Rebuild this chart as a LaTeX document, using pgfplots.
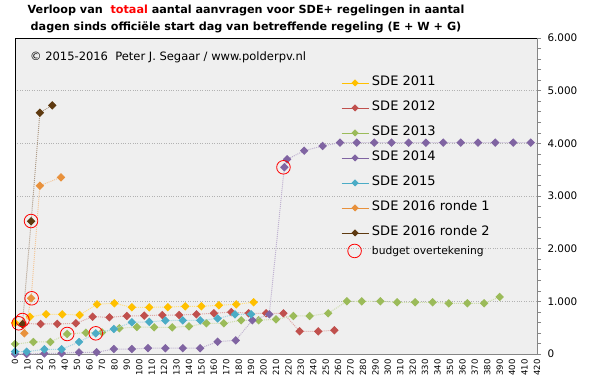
\documentclass[border=0pt]{standalone}
\usepackage{fontspec}
\setmainfont{DejaVu Sans}
\usepackage{pgfplots}
\pgfplotsset{compat=1.18}
\definecolor{cA}{HTML}{FFC000}
\definecolor{cB}{HTML}{C0504D}
\definecolor{cC}{HTML}{9BBB59}
\definecolor{cD}{HTML}{8064A2}
\definecolor{cE}{HTML}{4BACC6}
\definecolor{cF}{HTML}{E8913C}
\definecolor{cG}{HTML}{5E3A10}
\definecolor{bgc}{HTML}{EFEFEF}
\definecolor{axg}{HTML}{868686}
\pgfplotsset{
  ser/.style={color=#1!50!white, line width=1pt, dash pattern=on 1pt off 1pt,
    mark=square*, mark size=2.5pt, mark options={solid, rotate=45, fill=#1, draw=#1}},
  leg/.style={color=#1, solid, line width=0.8pt, mark=square*, mark size=2.1pt,
    mark options={solid, rotate=45, fill=#1, draw=#1}},
}
\begin{document}
\begin{tikzpicture}
\useasboundingbox (0,0) rectangle (591pt,381pt);
\begin{axis}[
  at={(15pt,27pt)}, anchor=south west,
  width=522pt, height=316pt, scale only axis,
  xmin=0, xmax=420, ymin=0, ymax=6000,
  axis background/.style={fill=bgc},
  axis x line*=bottom, axis y line*=right,
  axis line style={draw=axg, line width=0.8pt},
  clip mode=individual,
  xtick={0,10,...,420},
  xtick style={draw=none},
  xticklabel style={rotate=90, anchor=east, font=\fontsize{8.5}{9}\selectfont, inner sep=1pt, yshift=0pt},
  ytick={0,1000,...,6000},
  minor y tick num=4,
  tick align=outside,
  ytick style={draw=axg, line width=0.6pt},
  major tick length=4pt, minor tick length=4pt,
  yticklabel style={font=\fontsize{10.4}{12}\selectfont, text=black, xshift=3pt},
  /pgf/number format/assume math mode=true,
  /pgf/number format/1000 sep={.},
  ymajorgrids,
  major grid style={draw=gray!60, dotted, line width=0.6pt},
  legend cell align=left,
  legend style={at={(rel axis cs:0.6245,0.879)}, anchor=north west, draw=none, fill=none,
    font=\fontsize{13}{15}\selectfont, row sep=12pt, inner sep=0pt,
    nodes={inner sep=0pt, text height=9.5pt, text depth=3.5pt}, /tikz/column sep=3pt},
  legend image code/.code={\draw[mark repeat=2,mark phase=2,#1] plot coordinates {(0pt,0pt) (13.5pt,0pt) (27pt,0pt)};},
]
\addlegendimage{leg=cA}\addlegendentry{SDE 2011}
\addlegendimage{leg=cB}\addlegendentry{SDE 2012}
\addlegendimage{leg=cC}\addlegendentry{SDE 2013}
\addlegendimage{leg=cD}\addlegendentry{SDE 2014}
\addlegendimage{leg=cE}\addlegendentry{SDE 2015}
\addlegendimage{leg=cF}\addlegendentry{SDE 2016 ronde 1}
\addlegendimage{leg=cG}\addlegendentry{SDE 2016 ronde 2}
\addlegendimage{legend image code/.code={\draw[red, line width=0.8pt, overlay] (13pt,4pt) circle (6.8pt);}}
\addlegendentry[text height=3.5pt, font=\fontsize{10.7}{12}\selectfont]{budget overtekening}

% SDE 2011
\addplot[ser=cA, forget plot] coordinates {(0,590)(12,708)(25,754)(38,754)(52,740)(66,944)(80,963)(94,887)(108,887)(123,890)(137,906)(150,906)(164,925)(178,944)(192,982)};
% SDE 2012
\addplot[ser=cB, forget plot] coordinates {(6.6,580)(20.6,570)(34,570)(49,583)(62.5,708)(76,697)(90,722)(104,728)(118.5,740)(132,740)(146,754)(160,773)(174,797)(188,773)(202,773)(216,773)(229,431)(244,431)(257,450)};
% SDE 2013
\addplot[ser=cC, forget plot] coordinates {(0,190)(14.7,228)(28.4,228)(42,380)(57,405)(70,412)(84,488)(98,513)(112,507)(126.5,507)(140,526)(154,583)(168,583)(182,640)(196,640)(210,659)(224,722)(237,722)(252,773)(267,1001)(279,1001)(294,1001)(307.5,982)(322,982)(336,982)(349,963)(364,963)(377.5,963)(390,1083)};
% SDE 2014
\addplot[ser=cD, forget plot] coordinates {(0,0)(9.4,0)(23.6,10)(37.5,15)(51.5,32)(65.7,32)(79.6,95)(94,95)(107,110)(121,110)(135,110)(149,110)(163,234)(177.6,260)(191,640)(204.6,754)(216.7,3545)(219,3697)(232.7,3860)(247.5,3950)(261.5,4013)(275,4013)(289,4013)(303,4013)(316.7,4013)(330.6,4013)(344.6,4013)(358.6,4013)(372.5,4013)(386.4,4013)(400.9,4013)(415,4013)};
% SDE 2015
\addplot[ser=cE, forget plot] coordinates {(0,44)(9.4,44)(23.6,89)(37.5,89)(51.5,228)(65,393)(79.6,475)(94,602)(108,610)(121,635)(135,638)(149,638)(163,675)(177,754)(190,754)};
% SDE 2016 ronde 1
\addplot[ser=cF, forget plot] coordinates {(7.5,393)(13,1058)(20,3196)(37,3355)};
% SDE 2016 ronde 2
\addplot[ser=cG, forget plot] coordinates {(6,564)(13,2520)(20,4582)(30,4722)};
% budget overtekening
\addplot[only marks, mark=o, mark size=6.8pt, mark options={draw=red, line width=0.8pt}, forget plot] coordinates {(3,583)(6,645)(13.4,1058)(12.9,2525)(42,380)(65,393)(216,3545)};

\draw[black, line width=0.8pt] (rel axis cs:0,0) -- (rel axis cs:0,1) -- (rel axis cs:1,1);
\end{axis}
\node[anchor=base, inner sep=0pt, font=\bfseries\fontsize{11.2}{13}\selectfont] at (246pt,367.5pt) {Verloop van \ {\color{red}totaal} aantal aanvragen voor SDE+ regelingen in aantal};
\node[anchor=base, inner sep=0pt, font=\bfseries\fontsize{11.2}{13}\selectfont] at (246pt,350.5pt) {dagen sinds officiële start dag van betreffende regeling (E + W + G)};
\node[anchor=base west, inner sep=0pt, font=\fontsize{11.5}{13}\selectfont] at (30pt,320pt) {© 2015-2016\ \ Peter J. Segaar / www.polderpv.nl};
\end{tikzpicture}
\end{document}
